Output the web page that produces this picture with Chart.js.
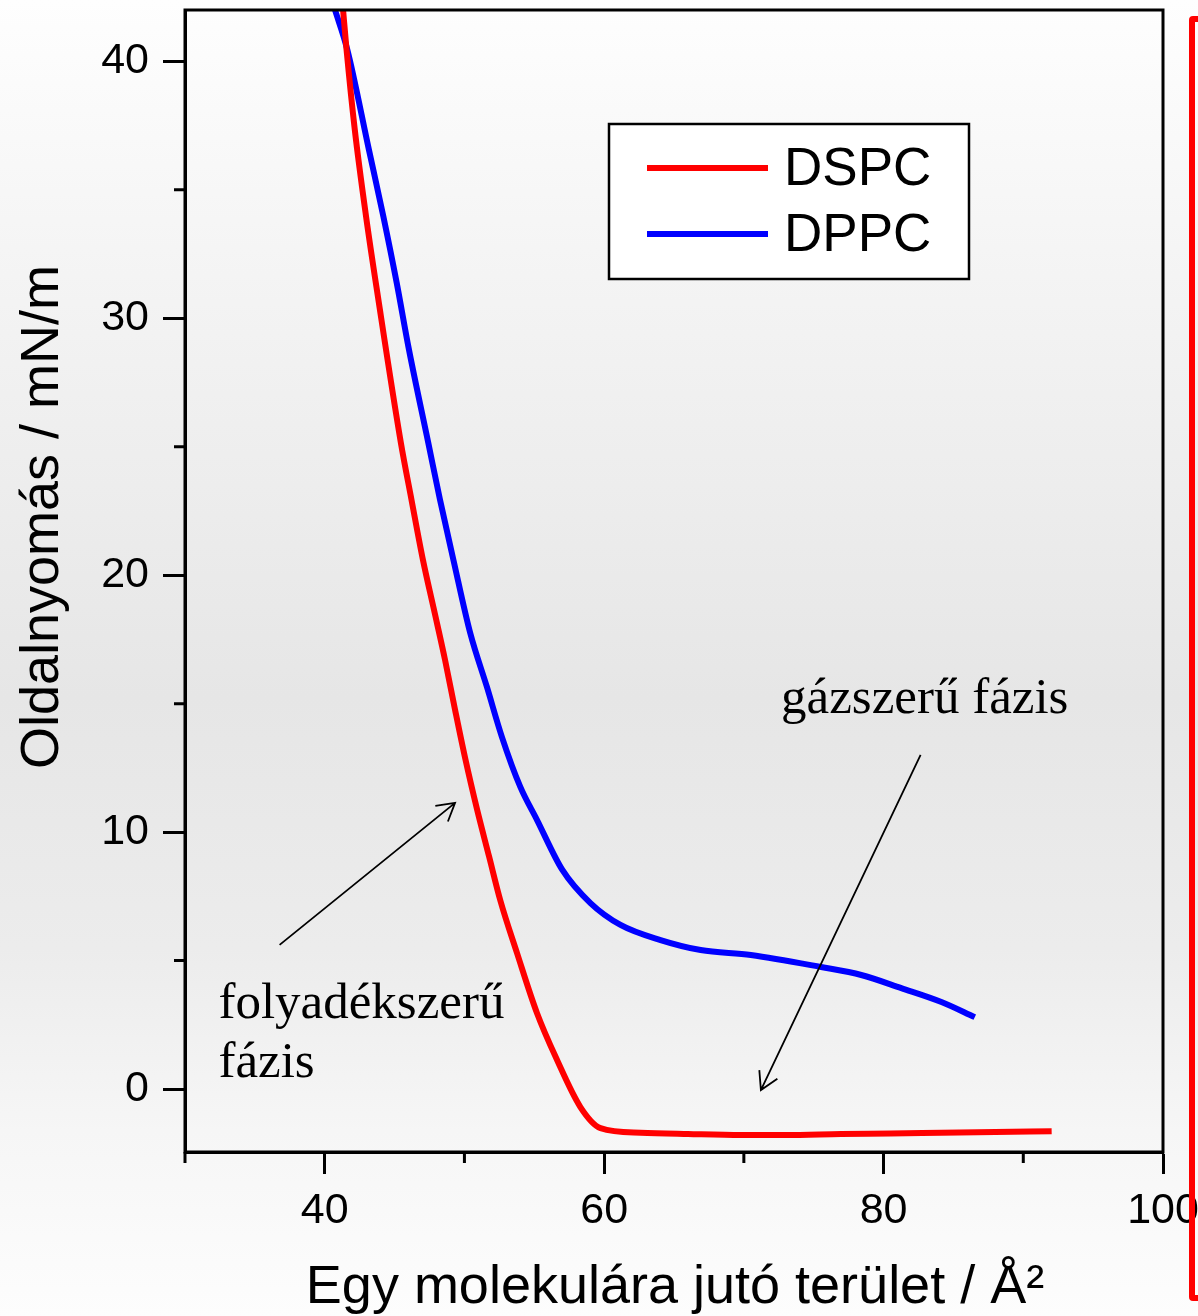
<!DOCTYPE html>
<html>
<head>
<meta charset="utf-8">
<script src="https://cdn.jsdelivr.net/npm/chart.js@4.4.0/dist/chart.umd.min.js"></script>
<style>
    html, body { margin: 0; padding: 0; }
    body {
        width: 1198px; height: 1316px; overflow: hidden; position: relative;
        background: linear-gradient(to bottom, #fefefe 0%, #f3f3f3 23%, #e6e6e6 53%, #ececec 72%, #f6f6f6 86%, #fdfdfd 100%);
    }
    canvas { position: absolute; left: 0; top: 0; }
    #frame {
        position: absolute; left: 1189px; top: 16px; width: 120px; height: 1285px;
        border: 6px solid #ff0000; border-radius: 4px; box-sizing: border-box;
    }
</style>
</head>
<body>
<canvas id="isothermChart" width="1198" height="1316"></canvas>
<div id="frame"></div>
<script>
const dspcArea = [41.31, 41.56, 42.15, 42.96, 43.84, 45.45, 46.21, 47.03, 47.82, 48.61, 49.33, 50.08, 50.91, 51.77, 52.56, 53.76, 55.19, 56.63, 58.30, 59.74, 62.61, 66.0, 69.79, 73.0, 76.96, 80.5, 84.14, 88.0, 92.03];
const dspcPressure = [42.03, 40.47, 37.35, 33.96, 30.73, 25.16, 22.94, 20.60, 18.66, 16.71, 14.76, 12.81, 10.87, 9.04, 7.36, 5.30, 2.96, 1.13, -0.70, -1.52, -1.70, -1.75, -1.79, -1.79, -1.75, -1.73, -1.70, -1.67, -1.64];

const dppcArea = [40.72, 41.61, 43.16, 44.20, 45.15, 46.03, 47.41, 48.25, 49.21, 50.41, 51.61, 52.68, 54.00, 55.19, 57.01, 59.02, 61.17, 64.04, 66.91, 70.50, 75.53, 78.40, 81.27, 84.14, 86.53];
const dppcPressure = [42.03, 40.47, 36.57, 33.96, 31.39, 28.78, 25.16, 22.94, 20.60, 17.76, 15.65, 13.71, 11.76, 10.48, 8.53, 7.24, 6.39, 5.80, 5.41, 5.22, 4.75, 4.44, 3.93, 3.39, 2.80];

const xTicks = [40, 60, 80, 100];
const xMinorTicks = [30, 50, 70, 90];
const yTicks = [0, 10, 20, 30, 40];
const yMinorTicks = [5, 15, 25, 35];

const sansFont = '"Liberation Sans", Arial, sans-serif';
const serifFont = '"Liberation Serif", "Times New Roman", serif';

function toPoints(xs, ys) {
    return xs.map((x, i) => ({ x: x, y: ys[i] }));
}

function drawArrow(ctx, x1, y1, x2, y2) {
    const ang = Math.atan2(y1 - y2, x1 - x2);
    const len = 20, spread = Math.PI / 6;
    ctx.beginPath();
    ctx.moveTo(x1, y1);
    ctx.lineTo(x2, y2);
    ctx.moveTo(x2 + len * Math.cos(ang - spread), y2 + len * Math.sin(ang - spread));
    ctx.lineTo(x2, y2);
    ctx.lineTo(x2 + len * Math.cos(ang + spread), y2 + len * Math.sin(ang + spread));
    ctx.stroke();
}

const decorPlugin = {
    id: 'decor',
    afterDraw(chart) {
        const ctx = chart.ctx;
        const ca = chart.chartArea;
        const xs = chart.scales.x;
        const ys = chart.scales.y;
        ctx.save();

        // frame and minor ticks
        ctx.strokeStyle = '#000';
        ctx.lineWidth = 3;
        ctx.strokeRect(ca.left, ca.top, ca.right - ca.left, ca.bottom - ca.top);
        ctx.beginPath();
        xMinorTicks.forEach(v => {
            const px = xs.getPixelForValue(v);
            ctx.moveTo(px, ca.bottom);
            ctx.lineTo(px, ca.bottom + 11);
        });
        yMinorTicks.forEach(v => {
            const py = ys.getPixelForValue(v);
            ctx.moveTo(ca.left - 11, py);
            ctx.lineTo(ca.left, py);
        });
        ctx.stroke();

        // axis titles
        ctx.fillStyle = '#000';
        ctx.font = '54px ' + sansFont;
        ctx.textAlign = 'center';
        ctx.textBaseline = 'alphabetic';
        ctx.fillText('Egy molekulára jutó terület / Å²', 675, 1303);
        ctx.save();
        ctx.translate(58, 517);
        ctx.rotate(-Math.PI / 2);
        ctx.fillText('Oldalnyomás / mN/m', 0, 0);
        ctx.restore();

        // legend
        ctx.fillStyle = '#fff';
        ctx.fillRect(609, 124, 360, 155);
        ctx.lineWidth = 2.5;
        ctx.strokeRect(609, 124, 360, 155);
        ctx.font = '53px ' + sansFont;
        ctx.textAlign = 'left';
        ctx.textBaseline = 'middle';
        chart.data.datasets.forEach((ds, i) => {
            const ly = 168 + i * 66;
            ctx.strokeStyle = ds.borderColor;
            ctx.lineWidth = 6;
            ctx.beginPath();
            ctx.moveTo(647, ly);
            ctx.lineTo(768, ly);
            ctx.stroke();
            ctx.fillStyle = '#000';
            ctx.fillText(ds.label, 784, ly + 2);
        });

        // phase annotations
        ctx.fillStyle = '#000';
        ctx.font = '51px ' + serifFont;
        ctx.textBaseline = 'alphabetic';
        ctx.fillText('gázszerű fázis', xs.getPixelForValue(72.66), ys.getPixelForValue(14.64));
        ctx.fillText('folyadékszerű', xs.getPixelForValue(32.39), ys.getPixelForValue(2.77));
        ctx.fillText('fázis', xs.getPixelForValue(32.39), ys.getPixelForValue(0.47));

        ctx.strokeStyle = '#000';
        ctx.lineWidth = 1.8;
        drawArrow(ctx, xs.getPixelForValue(36.77), ys.getPixelForValue(5.61),
                       xs.getPixelForValue(49.33), ys.getPixelForValue(11.14));
        drawArrow(ctx, xs.getPixelForValue(82.65), ys.getPixelForValue(13.01),
                       xs.getPixelForValue(71.22), ys.getPixelForValue(-0.04));
        ctx.restore();
    }
};

const ctx = document.getElementById('isothermChart').getContext('2d');
const isothermChart = new Chart(ctx, {
    type: 'line',
    data: {
        datasets: [{
            label: 'DSPC',
            data: toPoints(dspcArea, dspcPressure),
            borderColor: '#ff0000',
            borderWidth: 6,
            pointRadius: 0,
            cubicInterpolationMode: 'monotone',
            fill: false,
            clip: 0
        }, {
            label: 'DPPC',
            data: toPoints(dppcArea, dppcPressure),
            borderColor: '#0000ff',
            borderWidth: 6,
            pointRadius: 0,
            cubicInterpolationMode: 'monotone',
            fill: false,
            clip: 0
        }]
    },
    options: {
        responsive: false,
        animation: false,
        devicePixelRatio: 1,
        layout: { autoPadding: false, padding: { top: 10, right: 35, left: 0, bottom: 0 } },
        plugins: {
            legend: { display: false },
            tooltip: { enabled: false }
        },
        scales: {
            x: {
                type: 'linear',
                min: 30,
                max: 100,
                afterBuildTicks: s => { s.ticks = xTicks.map(v => ({ value: v })); },
                afterFit: s => { s.height = 164; s.paddingLeft = 0; s.paddingRight = 0; },
                grid: { drawOnChartArea: false, drawTicks: true, tickLength: 22, tickWidth: 3, tickColor: '#000' },
                border: { display: true, color: '#000', width: 3 },
                ticks: { color: '#000', font: { family: sansFont, size: 43 }, padding: 11, maxRotation: 0, autoSkip: false }
            },
            y: {
                type: 'linear',
                min: -2.45,
                max: 42,
                afterBuildTicks: s => { s.ticks = yTicks.map(v => ({ value: v })); },
                afterFit: s => { s.width = 185; s.paddingTop = 0; s.paddingBottom = 0; },
                grid: { drawOnChartArea: false, drawTicks: true, tickLength: 22, tickWidth: 3, tickColor: '#000' },
                border: { display: true, color: '#000', width: 3 },
                ticks: { color: '#000', font: { family: sansFont, size: 43 }, padding: 14, autoSkip: false }
            }
        }
    },
    plugins: [decorPlugin]
});
</script>
</body>
</html>
